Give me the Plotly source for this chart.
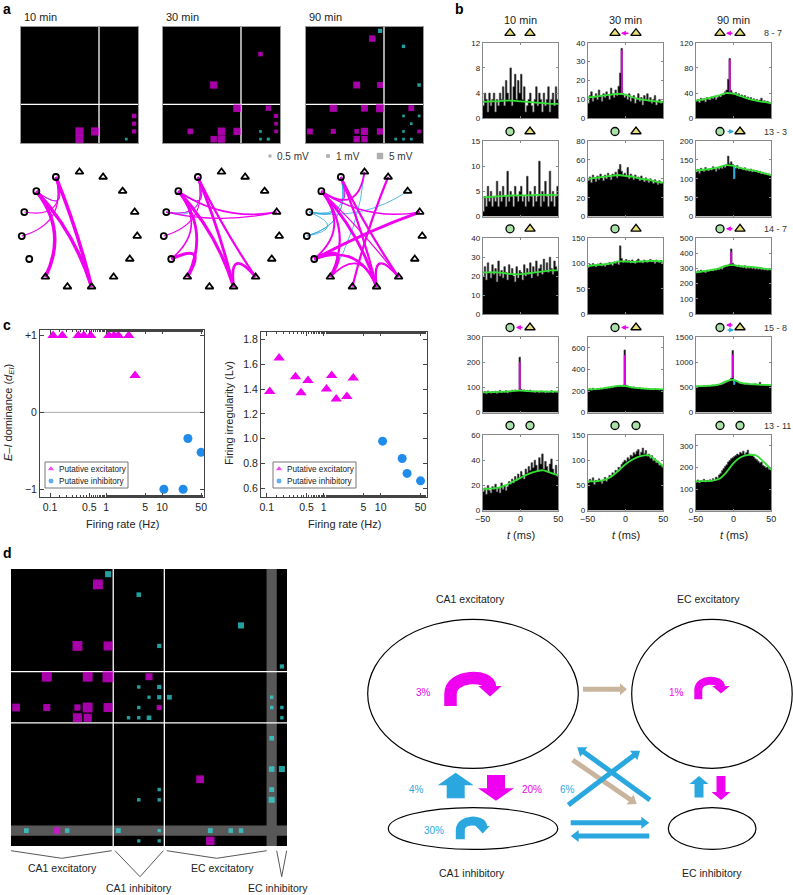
import numpy as np
import plotly.graph_objects as go

W, H = 793, 895
FONT = "Liberation Sans, Arial, sans-serif"
MAG = "#f000f0"
CYAN = "#33e3e3"
BLUE = "#2aa7df"
DOT_BLUE = "#1f8ceb"
TAN = "#c9b59e"

# ---------------- panel a : connection matrices (row, col, mV; negative = inhibitory)
a_times = ["10 min", "30 min", "90 min"]
a_10 = [(13, 7, 9), (14, 7, 9), (13, 9, 9), (11, 14, 2), (12, 14, 1.5), (13, 14, 1.5), (14, 13, -0.3)]
a_30 = [(3, 12, 2), (7, 6, 7), (10, 9, 8), (10, 13, 3), (11, 14, 1.5), (12, 14, 1), (13, 14, 1),
        (13, 9, 7), (13, 7, 8), (13, 3, 3.5), (14, 6, 5), (14, 7, 7),
        (13, 12, -0.3), (14, 12, -0.3), (14, 13, -0.5)]
a_90 = [(0, 9, -1.5), (1, 8, 5), (7, 6, 6), (7, 9, 4), (10, 3, 7), (10, 7, 6), (10, 9, 9),
        (13, 0, 4), (13, 3, 2.5), (13, 6, 2), (13, 7, 7), (13, 9, 5), (14, 6, 5), (14, 7, 5),
        (2, 12, -0.8), (7, 14, -0.8), (10, 13, 4), (11, 12, -0.3), (11, 14, -0.3), (12, 13, -0.3),
        (13, 12, -0.3), (13, 14, 1), (14, 12, -0.3), (14, 13, -0.3), (14, 11, -0.3)]
a_links = [a_10, a_30, a_90]
a_legend_mv = [0.5, 1, 5]

# ---------------- panel b : cross-correlograms
b_times = ["10 min", "30 min", "90 min"]
b_pairs = ["8 - 7", "13 - 3", "14 - 7", "15 - 8", "13 - 11"]
b_units = [["tri", "tri"], ["circ", "tri"], ["circ", "tri"], ["circ", "tri"], ["circ", "circ"]]
b_conn = [["", "E", "E"], ["", "", "I"], ["", "", "E"], ["E", "E", "EI"], ["", "", ""]]
b_t = list(range(-49, 50, 2))
b_hist = [
    [[2, 4, 3, 1, 4, 2, 3, 4, 1, 3, 2, 4, 3, 5, 2, 6, 4, 3, 8, 2, 5, 7, 3, 6, 4, 7, 3, 5, 1, 2,
      3, 4, 2, 1, 3, 5, 2, 4, 3, 1, 4, 2, 3, 5, 1, 3, 4, 2, 5, 3],
     [8, 12, 14, 9, 11, 13, 10, 15, 12, 9, 13, 11, 14, 12, 10, 16, 13, 11, 15, 12, 17, 24, 37, 13, 11,
      12, 10, 13, 9, 11, 12, 8, 10, 13, 9, 11, 7, 12, 10, 13, 9, 11, 8, 10, 12, 7, 9, 10, 8, 9],
     [27, 30, 25, 32, 28, 31, 26, 33, 30, 29, 34, 31, 35, 30, 33, 36, 34, 38, 37, 42, 45, 62, 95, 44, 40,
      38, 41, 36, 39, 35, 37, 33, 36, 32, 34, 30, 33, 29, 31, 28, 30, 27, 29, 32, 26, 28, 25, 27, 24, 23]],
    [[1, 4, 2, 6, 3, 5, 2, 4, 3, 7, 2, 5, 3, 6, 4, 2, 9, 3, 5, 4, 2, 6, 4, 3, 5, 6, 3, 4, 2, 8,
      3, 5, 4, 2, 6, 3, 4, 11, 2, 5, 3, 7, 4, 2, 9, 3, 5, 2, 4, 6],
     [38, 42, 36, 44, 40, 37, 43, 39, 45, 41, 38, 44, 40, 46, 42, 39, 45, 43, 47, 41, 50, 55, 48, 44, 46,
      42, 52, 40, 45, 43, 39, 44, 41, 42, 38, 43, 40, 37, 41, 39, 36, 40, 38, 35, 39, 37, 34, 38, 35, 36],
     [118, 125, 115, 128, 122, 119, 130, 124, 121, 127, 123, 132, 126, 120, 129, 125, 131, 127, 135, 130,
      138, 160, 140, 145, 138, 100, 128, 135, 126, 130, 127, 124, 129, 122, 125, 120, 126, 118, 123, 119,
      121, 116, 120, 113, 117, 112, 115, 110, 113, 108]],
    [[20, 25, 18, 27, 22, 19, 26, 21, 24, 17, 28, 20, 23, 19, 25, 22, 18, 26, 21, 24, 20, 17, 25, 19, 23,
      22, 18, 26, 20, 24, 21, 27, 19, 25, 22, 28, 20, 24, 26, 21, 29, 23, 27, 22, 30, 24, 21, 28, 25, 23],
     [92, 98, 95, 100, 96, 93, 99, 97, 101, 95, 98, 94, 100, 97, 102, 99, 96, 103, 100, 104, 98, 135, 110,
      102, 105, 108, 103, 106, 101, 107, 104, 100, 106, 109, 103, 105, 101, 107, 104, 102, 106, 108, 103,
      105, 100, 107, 104, 102, 106, 101],
     [270, 285, 275, 290, 278, 282, 272, 288, 280, 286, 292, 284, 295, 289, 298, 293, 302, 296, 305, 312,
      315, 322, 330, 430, 335, 325, 318, 312, 322, 308, 315, 305, 318, 300, 310, 302, 312, 298, 306, 296,
      303, 295, 301, 292, 299, 290, 297, 288, 294, 290]],
    [[78, 84, 75, 86, 80, 77, 83, 79, 85, 76, 82, 88, 79, 84, 81, 87, 78, 85, 82, 89, 84, 90, 86, 88, 220,
      92, 87, 90, 85, 88, 84, 89, 82, 86, 80, 85, 83, 79, 86, 81, 84, 78, 85, 80, 83, 87, 79, 84, 82, 80],
     [212, 220, 208, 225, 215, 210, 222, 214, 226, 218, 224, 230, 220, 233, 226, 238, 230, 242, 236, 245,
      240, 250, 248, 255, 580, 252, 245, 240, 236, 232, 238, 228, 232, 224, 230, 220, 226, 218, 224, 215,
      221, 212, 218, 210, 222, 214, 219, 211, 216, 213],
     [510, 530, 515, 525, 520, 535, 518, 540, 528, 522, 535, 545, 530, 550, 540, 555, 548, 560, 570, 585,
      600, 620, 650, 680, 1230, 560, 640, 610, 590, 575, 570, 565, 560, 558, 562, 555, 560, 552, 558, 570,
      548, 555, 600, 545, 552, 540, 548, 536, 545, 540]],
    [[15, 18, 13, 20, 16, 14, 19, 17, 21, 15, 18, 14, 22, 17, 20, 16, 19, 23, 21, 25, 22, 27, 24, 29, 26,
      31, 28, 25, 33, 30, 35, 32, 38, 34, 40, 36, 31, 42, 37, 45, 33, 39, 35, 30, 37, 41, 33, 29, 36, 27],
     [55, 62, 58, 65, 52, 60, 57, 63, 59, 54, 61, 66, 58, 64, 70, 67, 75, 72, 80, 78, 86, 84, 92, 96, 100,
      98, 105, 102, 110, 108, 115, 112, 118, 121, 110, 116, 124, 113, 119, 108, 112, 104, 109, 99, 103,
      95, 98, 90, 92, 86],
     [130, 142, 128, 138, 135, 145, 132, 140, 137, 143, 135, 148, 140, 155, 150, 165, 172, 185, 195, 205,
      212, 225, 232, 240, 245, 250, 255, 262, 258, 270, 265, 275, 260, 268, 280, 262, 255, 258, 248, 240,
      235, 228, 220, 225, 210, 205, 198, 202, 192, 188]],
]
b_fit_t = list(range(-50, 51, 10))
b_fit = [
    [[2.6, 2.7, 2.7, 2.8, 2.8, 2.7, 2.6, 2.5, 2.4, 2.3, 2.3],
     [11, 11.5, 12, 12.5, 13, 12.5, 11, 10, 9.5, 9, 8.5],
     [28, 30, 33, 36, 40, 39, 35, 31, 28, 26, 24]],
    [[3.8, 3.9, 4.0, 4.1, 4.2, 4.2, 4.2, 4.3, 4.3, 4.3, 4.3],
     [40, 41, 42, 43, 44, 43, 42, 40, 39, 37, 36],
     [122, 124, 126, 130, 136, 134, 128, 124, 120, 115, 110]],
    [[22, 22, 22, 21.5, 21, 21, 21.5, 22, 22.5, 23, 23],
     [95, 97, 98, 100, 104, 104, 103, 104, 105, 105, 104],
     [275, 282, 290, 300, 320, 322, 315, 312, 308, 300, 295]],
    [[80, 81, 82, 83, 86, 87, 85, 84, 84, 83, 84],
     [215, 218, 225, 235, 248, 245, 232, 225, 220, 217, 215],
     [520, 525, 535, 555, 620, 650, 590, 570, 560, 550, 545]],
    [[17, 17.5, 18, 20, 23, 26, 29, 31, 32, 30, 28],
     [58, 58, 60, 66, 78, 92, 102, 108, 110, 100, 88],
     [135, 136, 138, 145, 175, 220, 248, 258, 255, 225, 190]],
]
# (row, col, t, from, to, kind)
b_marks = [(0, 1, -5, 13, 36, "E"), (0, 2, -5, 42, 93, "E"), (1, 2, 1, 100, 136, "I"),
           (2, 2, -3, 330, 410, "E"), (3, 0, -1, 90, 200, "E"), (3, 1, -1, 250, 530, "E"),
           (3, 2, -1, 690, 1150, "E"), (3, 2, 1, 560, 655, "I")]
b_ymax = [[12, 40, 120], [15, 80, 200], [40, 150, 500], [300, 700, 1500], [60, 150, 350]]
b_dtick = [[4, 10, 40], [5, 20, 50], [10, 50, 100], [100, 200, 500], [20, 50, 100]]

# ---------------- panel c
c_names = ["Putative excitatory", "Putative inhibitory"]
c_rate_e = [0.113, 0.165, 0.32, 0.40, 0.53, 1.12, 1.38, 1.66, 2.55, 3.3]
c_dei_e = [1, 1, 1, 1, 1, 1, 1, 1, 1, 0.48]
c_lv_e = [1.38, 1.65, 1.50, 1.37, 1.47, 1.40, 1.51, 1.32, 1.34, 1.49]
c_rate_i = [10.8, 23.8, 29, 50]
c_dei_i = [-1, -1, -0.34, -0.52]
c_lv_i = [0.98, 0.84, 0.72, 0.66]

# ---------------- panel d
d_groups = ["CA1 excitatory", "CA1 inhibitory", "EC excitatory", "EC inhibitory"]
d_links = [(0, 9, -2), (1, 8, 7.4), (2, 12, -0.8), (5, 22, -2), (7, 6, 7.4), (7, 9, 6), (7, 14, -0.6),
           (9, 26, -0.6), (10, 3, 7.4), (10, 7, 7.4), (10, 9, 10), (10, 13, 3),
           (11, 12, -0.25), (11, 14, -0.6), (12, 13, -0.2), (12, 14, -0.6), (12, 15, -0.9), (12, 25, -0.25),
           (13, 0, 4), (13, 3, 3), (13, 6, 2.2), (13, 7, 7.4), (13, 9, 6), (13, 12, -0.25), (13, 14, 1.2),
           (13, 25, -0.25), (13, 26, -0.25), (14, 6, 6), (14, 7, 4.5), (14, 11, -0.25), (14, 12, -0.25),
           (14, 13, -0.8), (14, 26, -0.25), (16, 25, -0.8), (19, 25, -1.5), (19, 26, -2), (20, 18, 4),
           (21, 14, -0.25), (21, 25, -1), (22, 12, -0.25), (22, 14, -0.25), (22, 25, -2),
           (25, 1, -0.9), (25, 4, 2.5), (25, 5, -0.8), (25, 10, -1), (25, 14, -0.2), (25, 19, -1),
           (25, 21, -0.8), (25, 22, -0.8), (26, 12, -0.2), (26, 14, -0.2), (26, 19, 5)]
d_pct = {"ca1_e": "3%", "ec_e": "1%", "i_to_e": "4%", "e_to_i": "20%", "cross": "6%", "ca1_i": "30%"}

fig = go.Figure()
layout = dict(width=W, height=H, margin=dict(l=0, r=0, t=0, b=0, pad=0, autoexpand=False),
              paper_bgcolor="white", plot_bgcolor="rgba(0,0,0,0)", showlegend=False,
              font=dict(family=FONT, size=10, color="#222"))
shapes, annos = [], []


def nm(n):
    return "" if n == 1 else str(n)


def make_axes(n, px0, px1, py0, py1, xr, yr, xkw=None, ykw=None):
    k = nm(n)
    base = dict(showgrid=False, zeroline=False, showticklabels=False, ticks="", fixedrange=True,
                automargin=False)
    x = dict(base, domain=[px0 / W, px1 / W], range=xr, anchor="y" + k)
    y = dict(base, domain=[1 - py1 / H, 1 - py0 / H], range=yr, anchor="x" + k)
    x.update(xkw or {})
    y.update(ykw or {})
    layout["xaxis" + k] = x
    layout["yaxis" + k] = y
    return "x" + k, "y" + k


OV = 25
ox, oy = make_axes(OV, 0, W, 0, H, [0, W], [H, 0], dict(visible=False), dict(visible=False))


def text(x, y, s, size=10, color="#222", xanchor="center", angle=0, bold=False):
    if bold:
        s = "<b>" + s + "</b>"
    annos.append(dict(x=x, y=y, xref=ox, yref=oy, text=s, showarrow=False, xanchor=xanchor,
                      yanchor="middle", textangle=angle, font=dict(size=size, color=color, family=FONT)))


def arrow(x0, y0, x1, y1, color, w, hl, hw):
    L = np.hypot(x1 - x0, y1 - y0)
    ux, uy = (x1 - x0) / L, (y1 - y0) / L
    bx, by = x1 - ux * hl, y1 - uy * hl
    px, py = -uy, ux
    shapes.append(dict(type="line", xref=ox, yref=oy, x0=x0, y0=y0, x1=bx + ux, y1=by + uy,
                       line=dict(color=color, width=w)))
    shapes.append(dict(type="path", xref=ox, yref=oy, fillcolor=color, line=dict(width=0),
                       path=f"M {x1},{y1} L {bx + px * hw / 2},{by + py * hw / 2} "
                            f"L {bx - px * hw / 2},{by - py * hw / 2} Z"))


def uturn(xl, xr, ybot, ysl, apex, yhead, tip, color, w, hw):
    yc = (apex - 0.125 * (ysl + yhead)) / 0.75
    shapes.append(dict(type="path", xref=ox, yref=oy, line=dict(color=color, width=w),
                       path=f"M {xl},{ybot} L {xl},{ysl} C {xl},{yc} {xr},{yc} {xr},{yhead + 1}"))
    shapes.append(dict(type="path", xref=ox, yref=oy, fillcolor=color, line=dict(width=0),
                       path=f"M {xr},{tip} L {xr - hw},{yhead} L {xr + hw},{yhead} Z"))


def sq_size(mv, k=1.0):
    return k * (1.5 + 2.2 * np.sqrt(abs(mv)))


def squares(xa, ya, links, k):
    for sign, col in ((1, MAG), (-1, CYAN)):
        sel = [l for l in links if l[2] * sign > 0]
        fig.add_trace(go.Scatter(
            x=[l[1] for l in sel], y=[l[0] for l in sel], mode="markers", xaxis=xa, yaxis=ya,
            marker=dict(symbol="square", color=col, line=dict(width=0),
                        size=[sq_size(l[2], k) for l in sel]),
            hoverinfo="skip"))


def black_box(xa, ya):
    shapes.append(dict(type="rect", xref=xa + " domain", yref=ya + " domain", x0=0, x1=1, y0=0, y1=1,
                       fillcolor="black", line=dict(width=0), layer="below"))


# ---------------- panel a
text(1, 9, "a", 14, "black", "left", bold=True)
a_mx = [(21, 138), (163, 280), (306, 423)]
for i, (x0, x1) in enumerate(a_mx):
    xa, ya = make_axes(1 + i, x0, x1, 27, 143, [-0.5, 14.5], [14.5, -0.5],
                       dict(showline=True, mirror=True, linecolor="#999", linewidth=1),
                       dict(showline=True, mirror=True, linecolor="#999", linewidth=1))
    black_box(xa, ya)
    shapes.append(dict(type="line", xref=xa, yref=ya, x0=9.5, x1=9.5, y0=-0.5, y1=14.5,
                       line=dict(color="white", width=1.3), layer="below"))
    shapes.append(dict(type="line", xref=xa, yref=ya, y0=9.5, y1=9.5, x0=-0.5, x1=14.5,
                       line=dict(color="white", width=1.3), layer="below"))
    squares(xa, ya, a_links[i], 1.0)
    text(x0 + 1, 17, a_times[i], 11, "#222", "left")

# size legend
fig.add_trace(go.Scatter(x=[270, 328, 380], y=[156, 156, 156], mode="markers", xaxis=ox, yaxis=oy,
                         marker=dict(symbol="square", color="#8c8c8c", line=dict(width=0),
                                     size=[sq_size(v) for v in a_legend_mv]),
                         hoverinfo="skip"))
for xx, v in zip([275, 334, 387], a_legend_mv):
    text(xx, 156, f"{v:g} mV", 10, "#333", "left")

# networks
ang = np.deg2rad(90 - 24 * np.arange(15))
nx, ny = np.cos(ang), np.sin(ang)
for i, cx in enumerate([79.5, 221.5, 364.5]):
    xa, ya = make_axes(4 + i, cx - 65, cx + 65, 165, 295, [-1.12, 1.12], [-1.12, 1.12])
    for r, c, w in sorted(a_links[i], key=lambda l: l[2]):
        x0, y0, x1, y1 = nx[c], ny[c], nx[r], ny[r]
        qx, qy = 0.3 * (x0 + x1) / 2, 0.3 * (y0 + y1) / 2
        shapes.append(dict(type="path", xref=xa, yref=ya, layer="below",
                           path=f"M {x0},{y0} Q {qx},{qy} {x1},{y1}",
                           line=dict(color=MAG if w > 0 else BLUE,
                                     width=0.6 + 0.32 * w if w > 0 else 0.8)))
    fig.add_trace(go.Scatter(x=nx[:10], y=ny[:10], mode="markers", xaxis=xa, yaxis=ya,
                             marker=dict(symbol="triangle-up-open", size=7, color="black",
                                         line=dict(width=1.8)), hoverinfo="skip"))
    fig.add_trace(go.Scatter(x=nx[10:], y=ny[10:], mode="markers", xaxis=xa, yaxis=ya,
                             marker=dict(symbol="circle-open", size=6, color="black",
                                         line=dict(width=1.8)), hoverinfo="skip"))

# ---------------- panel b
text(453, 9, "b", 14, "black", "left", bold=True)
b_cx = [(482.7, 558.3), (587.7, 663.3), (695.7, 771.3)]
b_ry = [42.7, 141, 238.3, 337, 435]
b_sx = [(510, 530), (615, 636), (720, 740)]
edges = [t - 1 for t in b_t] + [b_t[-1] + 1]
for c in range(3):
    text((b_cx[c][0] + b_cx[c][1]) / 2, 20, b_times[c], 11)
for r in range(5):
    for c in range(3):
        n = 7 + r * 3 + c
        xa, ya = make_axes(n, b_cx[c][0], b_cx[c][1], b_ry[r], b_ry[r] + 75.6,
                           [-50, 50], [0, b_ymax[r][c]],
                           dict(showline=True, mirror="ticks", linecolor="#888", linewidth=1, ticks="inside",
                                ticklen=2, tickcolor="#888", tickvals=[-50, 0, 50], ticktext=["−50", "0", "50"],
                                showticklabels=(r == 4), tickfont=dict(size=9, color="#222")),
                           dict(showline=True, mirror="ticks", linecolor="#888", linewidth=1, ticks="inside",
                                ticklen=2, tickcolor="#888", tick0=0, dtick=b_dtick[r][c], showticklabels=True,
                                tickfont=dict(size=8, color="#222")))
        vals = b_hist[r][c]
        fig.add_trace(go.Scatter(x=edges, y=vals + [vals[-1]], mode="lines", xaxis=xa, yaxis=ya,
                                 line=dict(shape="hv", color="#4a4a4a", width=0.7),
                                 fill="tozeroy", fillcolor="black", hoverinfo="skip"))
        for rr, cc, t, lo, hi, kind in b_marks:
            if rr == r and cc == c:
                col = MAG if kind == "E" else BLUE
                fig.add_trace(go.Scatter(x=[t - 0.8, t - 0.8, t + 0.8, t + 0.8], y=[lo, hi, hi, lo],
                                         mode="lines", fill="toself", fillcolor=col, line=dict(color=col, width=0.5),
                                         xaxis=xa, yaxis=ya, hoverinfo="skip"))
        fig.add_trace(go.Scatter(x=b_fit_t, y=b_fit[r][c], mode="lines", xaxis=xa, yaxis=ya,
                                 line=dict(color="#35e035", width=1.8, shape="spline"),
                                 hoverinfo="skip"))
        # unit symbols and connection arrows
        sy = b_ry[r] - 9.5
        for k, u in enumerate(b_units[r]):
            fig.add_trace(go.Scatter(
                x=[b_sx[c][k]], y=[sy], mode="markers", xaxis=ox, yaxis=oy, hoverinfo="skip",
                marker=dict(symbol="triangle-up" if u == "tri" else "circle", size=9 if u == "tri" else 8,
                            color="#e6df7a" if u == "tri" else "#a8e2a8", line=dict(color="black", width=1.3))))
        conn = b_conn[r][c]
        xl, xr_ = b_sx[c][0] + 6, b_sx[c][1] - 6
        if conn:
            off = [-2.5, 2.5] if len(conn) == 2 else [0]
            for kind, dy in zip(conn, off):
                if kind == "E":
                    x_h, x_t, col = xl, xr_, MAG
                else:
                    x_h, x_t, col = xr_, xl, BLUE
                annos.append(dict(x=x_h, y=sy + dy, ax=x_t, ay=sy + dy, xref=ox, yref=oy, axref=ox, ayref=oy,
                                  text="", showarrow=True, arrowhead=2, arrowsize=0.7, arrowwidth=1.4,
                                  arrowcolor=col))
    text(762, b_ry[r] - 9.5, b_pairs[r], 9, "#333", "left")
for c in range(3):
    text((b_cx[c][0] + b_cx[c][1]) / 2, 535, "<i>t</i> (ms)", 11)

# ---------------- panel c
text(1, 325, "c", 14, "black", "left", bold=True)
caxis = dict(showline=True, mirror="allticks", linecolor="#444", linewidth=1, ticks="inside", ticklen=4,
             tickcolor="#444", showticklabels=True, tickfont=dict(size=10.5, color="#222"))
cx_kw = dict(caxis, type="log", tickvals=[0.1, 0.5, 1, 5, 10, 50], ticktext=["0.1", "0.5", "1", "5", "10", "50"],
             minor=dict(ticks="inside", ticklen=2, tickcolor="#444"))
c_panels = [(22, 40, 204, 330, 497, [-1.18, 1.75], [-1.1, 1.07],
             dict(caxis, tickvals=[-1, 0, 1], ticktext=["−1", "0", "+1"]), c_dei_e, c_dei_i, 45),
            (23, 261, 426.7, 332, 497, [-1.1, 1.807], [0.53, 1.86],
             dict(caxis, tick0=0.6, dtick=0.2, tickformat=".1f"), c_lv_e, c_lv_i, 273)]
for n, x0, x1, y0, y1, xr, yr, ykw, ye, yi, lx in c_panels:
    xa, ya = make_axes(n, x0, x1, y0, y1, xr, yr, cx_kw, ykw)
    if n == 22:
        shapes.append(dict(type="line", xref=xa + " domain", yref=ya, x0=0, x1=1, y0=0, y1=0,
                           line=dict(color="#aaa", width=1), layer="below"))
    fig.add_trace(go.Scatter(x=c_rate_e, y=ye, mode="markers", xaxis=xa, yaxis=ya, name=c_names[0],
                             marker=dict(symbol="triangle-up", size=10, color=MAG)))
    fig.add_trace(go.Scatter(x=c_rate_i, y=yi, mode="markers", xaxis=xa, yaxis=ya, name=c_names[1],
                             marker=dict(symbol="circle", size=9, color=DOT_BLUE)))
    # hand-drawn legend box
    shapes.append(dict(type="rect", xref=ox, yref=oy, x0=lx, x1=lx + 83, y0=462, y1=488, layer="below",
                       fillcolor="white", line=dict(color="#777", width=1)))
    fig.add_trace(go.Scatter(x=[lx + 6, lx + 6], y=[469, 481], mode="markers", xaxis=ox, yaxis=oy,
                             marker=dict(symbol=["triangle-up", "circle"], size=[7, 6], color=[MAG, DOT_BLUE]),
                             hoverinfo="skip"))
    text(lx + 12, 469, c_names[0], 8.2, "#222", "left")
    text(lx + 12, 481, c_names[1], 8.2, "#222", "left")
text(122, 524, "Firing rate (Hz)", 11)
text(344, 524, "Firing rate (Hz)", 11)
text(9, 413, "<i>E</i>–<i>I</i> dominance (<i>d</i><sub><i>EI</i></sub>)", 11, angle=-90)
text(229, 413, "Firing irregularity (Lv)", 11, angle=-90)

# ---------------- panel d matrix
text(1, 553, "d", 14, "black", "left", bold=True)
xa, ya = make_axes(24, 11, 287, 569, 846, [-0.5, 26.5], [26.5, -0.5])
black_box(xa, ya)
shapes.append(dict(type="rect", xref=xa, yref=ya, x0=24.5, x1=25.5, y0=-0.5, y1=26.5,
                   fillcolor="#585858", line=dict(width=0), layer="below"))
shapes.append(dict(type="rect", xref=xa, yref=ya, y0=24.5, y1=25.5, x0=-0.5, x1=26.5,
                   fillcolor="#585858", line=dict(width=0), layer="below"))
for v in (9.5, 14.5):
    shapes.append(dict(type="line", xref=xa, yref=ya, x0=v, x1=v, y0=-0.5, y1=26.5,
                       line=dict(color="white", width=1.3), layer="below"))
    shapes.append(dict(type="line", xref=xa, yref=ya, y0=v, y1=v, x0=-0.5, x1=26.5,
                       line=dict(color="white", width=1.3), layer="below"))
squares(xa, ya, d_links, 1.32)

brackets = [([11, 61.7, 111.7], [850.7, 858.3, 850.7]), ([115, 140, 163.3], [850.7, 876.7, 850.7]),
            ([166.7, 216.7, 266.7], [850.7, 858.3, 850.7]), ([276.7, 281.7, 286.7], [850.7, 876.7, 850.7])]
for bx, by in brackets:
    fig.add_trace(go.Scatter(x=bx, y=by, mode="lines", xaxis=ox, yaxis=oy, line=dict(color="#444", width=0.9),
                             hoverinfo="skip"))
for (xx, yy), s in zip([(62.7, 868), (139.3, 888), (222.7, 868), (278, 888)], d_groups):
    text(xx, yy, s, 10.5)

# ---------------- panel d diagram
for (x0, x1, y0, y1) in [(367.7, 578.3, 619.3, 768.3), (631.7, 792.2, 619.3, 768.3),
                         (388.3, 557.7, 807.7, 849.3), (668.3, 756, 807.7, 849.3)]:
    shapes.append(dict(type="circle", xref=ox, yref=oy, x0=x0, x1=x1, y0=y0, y1=y1,
                       line=dict(color="black", width=1.2)))
text(470, 599, "CA1 excitatory", 10.5)
text(708.3, 599, "EC excitatory", 10.5)
text(471.7, 872.7, "CA1 inhibitory", 10.5)
text(711.7, 872.7, "EC inhibitory", 10.5)

uturn(450.5, 490, 706, 694, 678, 686, 696.5, MAG, 12.5, 11.7)
uturn(698.3, 721, 699.3, 690, 680.7, 686, 693.5, MAG, 8, 8.8)
uturn(460.3, 482.7, 839.3, 830, 821, 826, 833.5, BLUE, 9, 7)
arrow(583, 689.3, 627, 689.3, TAN, 5, 7, 12)
arrow(455.7, 798.3, 455.7, 772.7, BLUE, 18, 12.5, 36)
arrow(496, 775, 496, 800.7, MAG, 18, 12.5, 36)
arrow(572.7, 760, 636.7, 804, TAN, 5, 8, 12)
arrow(568.3, 805, 640, 750.7, BLUE, 5, 8, 12)
arrow(650, 800, 577.3, 747.3, BLUE, 5, 8, 12)
arrow(570.7, 822.7, 649.3, 822.7, BLUE, 5, 8, 12)
arrow(649.3, 836, 570.7, 836, BLUE, 5, 8, 12)
arrow(699, 797.5, 699, 776, BLUE, 9, 8, 19)
arrow(721, 776, 721, 800, MAG, 9, 8, 19)

text(423.3, 692.3, d_pct["ca1_e"], 10, MAG)
text(676, 692.3, d_pct["ec_e"], 10, MAG)
text(416.7, 789, d_pct["i_to_e"], 10, BLUE)
text(532.3, 789, d_pct["e_to_i"], 10, MAG)
text(567.7, 789, d_pct["cross"], 10, BLUE)
text(434, 830, d_pct["ca1_i"], 10, BLUE)

layout["shapes"] = shapes
layout["annotations"] = annos
fig.update_layout(**layout)
fig.write_html("out.html", config={"displayModeBar": False},
               post_script="document.body.style.margin='0';document.body.style.overflow='hidden';")
